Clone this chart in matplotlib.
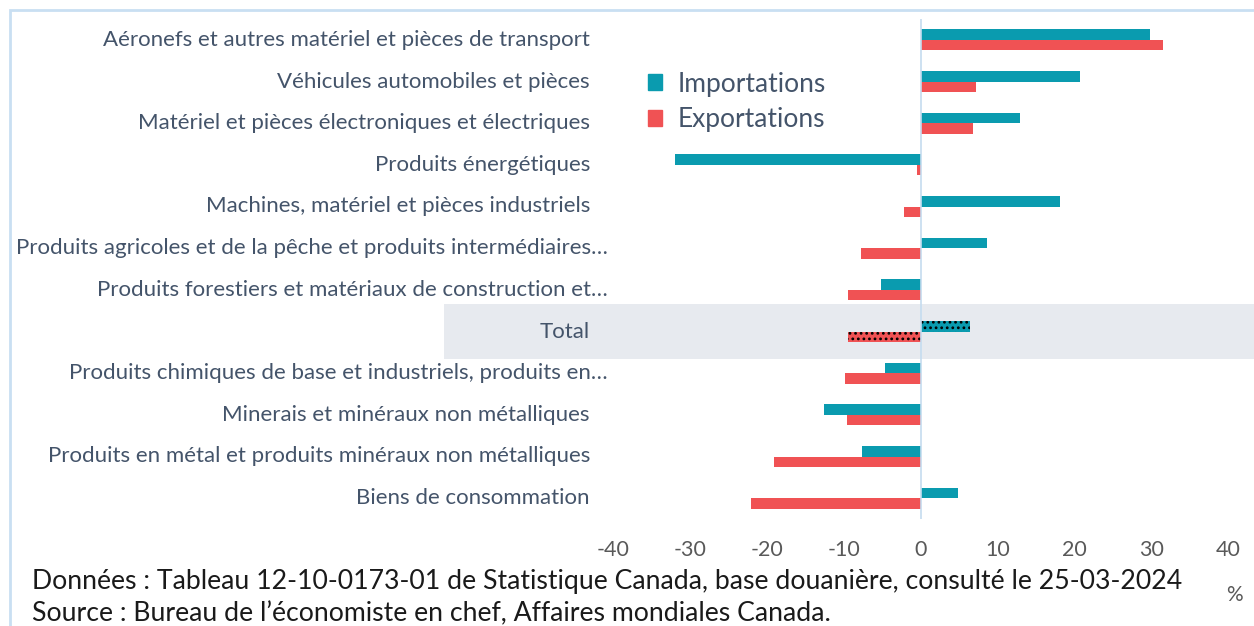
import matplotlib
matplotlib.use("Agg")
import matplotlib.pyplot as plt
import matplotlib.transforms as mtransforms
from matplotlib.patches import Rectangle, Patch
import numpy as np

plt.rcParams.update({'font.family': ['Lato', 'DejaVu Sans'], 'hatch.color': 'black', 'hatch.linewidth': 1.2})

#. data
categories = [
    "Aéronefs et autres matériel et pièces de transport",
    "Véhicules automobiles et pièces",
    "Matériel et pièces électroniques et électriques",
    "Produits énergétiques",
    "Machines, matériel et pièces industriels",
    "Produits agricoles et de la pêche et produits intermédiaires…",
    "Produits forestiers et matériaux de construction et…",
    "Total",
    "Produits chimiques de base et industriels, produits en…",
    "Minerais et minéraux non métalliques",
    "Produits en métal et produits minéraux non métalliques",
    "Biens de consommation",
]
importations = [29.8, 20.7, 12.9, -31.9, 18.2, 8.6, -5.1, 6.5, -4.6, -12.5, -7.6, 4.9]
exportations = [31.6, 7.2, 6.8, -0.5, -2.2, -7.8, -9.4, -9.4, -9.8, -9.5, -19.0, -22.1]
xticks = [-40, -30, -20, -10, 0, 10, 20, 30, 40]

#. colors
c_imp = '#0A9BAF'
c_exp = '#F05254'
c_txt = '#44546A'

W, H = 1254, 626
fig = plt.figure(figsize=(W/100, H/100), dpi=100)
ax = fig.add_axes([613/W, (H-519)/H, 615/W, 500/H])

y = np.arange(len(categories))
h = 0.25
i_tot = categories.index("Total")
for i in y:
    hatch = '...' if i == i_tot else None
    ax.barh(i - h/2, importations[i], height=h, color=c_imp, lw=0, hatch=hatch, zorder=2)
    ax.barh(i + h/2, exportations[i], height=h, color=c_exp, lw=0, hatch=hatch, zorder=2)

ax.set_xlim(-40, 40)
ax.set_ylim(len(categories) - 0.5, -0.5)
ax.axvline(0, color='#C5DCEF', lw=1.2, zorder=3)

# highlight band for Total
tr = mtransforms.blended_transform_factory(fig.transFigure, ax.transData)
ax.add_patch(Rectangle((444/W, i_tot - 0.65), 1 - 444/W, 1.3, transform=tr,
                       color='#E7EAEF', lw=0, zorder=0, clip_on=False))

for s in ax.spines.values():
    s.set_visible(False)
ax.set_yticks([])
ax.set_xticks(xticks)
ax.set_xticklabels([str(t) for t in xticks])
ax.tick_params(axis='x', length=0, pad=15, labelsize=15.5, labelcolor='#595959')

ytr = mtransforms.blended_transform_factory(ax.transAxes, ax.transData)
for i, lab in enumerate(categories):
    xpos = -0.0081 if lab.endswith('…') else -0.0374
    ax.text(xpos, i, lab, transform=ytr, ha='right', va='center', fontsize=16, color=c_txt)

handles = [Patch(color=c_imp, label='Importations'), Patch(color=c_exp, label='Exportations')]
fig.legend(handles=handles, loc='upper left', bbox_to_anchor=(637/W, 1 - 61/H), frameon=False,
           fontsize=19, labelcolor=c_txt, handlelength=0.55, handleheight=0.55,
           handletextpad=0.6, labelspacing=0.4, borderaxespad=0)

# border
fig.add_artist(Rectangle((10/W, -0.1), 1.2, 1 - 10/H + 0.1, transform=fig.transFigure,
                         fill=False, ec='#C9DFF2', lw=2))

fig.text(32/W, 1 - 582/H, "Données : Tableau 12-10-0173-01 de Statistique Canada, base douanière, consulté le 25-03-2024",
         ha='left', va='center', fontsize=19.2, color='#1a1a1a')
fig.text(32/W, 1 - 614/H, "Source : Bureau de l’économiste en chef, Affaires mondiales Canada.",
         ha='left', va='center', fontsize=19.2, color='#1a1a1a')
fig.text(1234/W, 1 - 595/H, "%", ha='center', va='center', fontsize=15, color='#595959')

plt.savefig('out.png', dpi=100)
